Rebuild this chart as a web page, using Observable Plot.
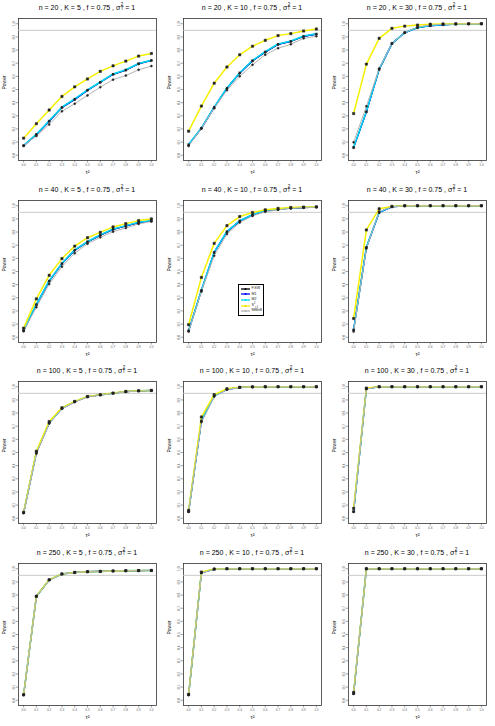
<!DOCTYPE html>
<html>
<head>
<meta charset="utf-8">
<script src="https://cdn.jsdelivr.net/npm/d3@7"></script>
<script src="https://cdn.jsdelivr.net/npm/@observablehq/plot@0.6"></script>
<style>
  html, body { margin: 0; padding: 0; background: #fff; }
  body { font-family: "Liberation Sans", Arial, sans-serif; }
  #grid { position: relative; width: 495px; height: 726px; overflow: hidden; }
  .cell { position: absolute; width: 165px; height: 181px; }
  .title { position: absolute; left: 18px; width: 138px; top: 1px; height: 14px; line-height: 14px;
           font-size: 7px; text-align: center; color: #000; white-space: nowrap; }
  .st { display: inline-flex; flex-direction: column; vertical-align: middle; line-height: 4.2px; font-size: 4.5px; margin-left: 0.3px; margin-top: -2px; }
  .cell svg { position: absolute; left: 0; top: 14px; }
  .legend { position: absolute; background: #fff; border: 0.6px solid #000; padding: 1px 1.5px; font-size: 3.6px; line-height: 5.6px; color: #222; }
  .legend .row { display: flex; align-items: center; height: 5.6px; }
  .legend svg { position: static; margin-right: 2px; }
</style>
</head>
<body>
<div id="grid"></div>
<script>
// ---- data ----
const tau = [0.0, 0.1, 0.2, 0.3, 0.4, 0.5, 0.6, 0.7, 0.8, 0.9, 1.0];
const xTicks = [0.0, 0.1, 0.2, 0.3, 0.4, 0.5, 0.6, 0.7, 0.8, 0.9, 1.0];
const yTicks = [0.0, 0.1, 0.2, 0.3, 0.4, 0.5, 0.6, 0.7, 0.8, 0.9, 1.0];
const nVals = [20, 20, 20, 40, 40, 40, 100, 100, 100, 250, 250, 250];
const KVals = [5, 10, 30, 5, 10, 30, 5, 10, 30, 5, 10, 30];
const fVals = [0.75, 0.75, 0.75, 0.75, 0.75, 0.75, 0.75, 0.75, 0.75, 0.75, 0.75, 0.75];
const refLine = 0.95;
const xLabel = "τ²";
const yLabel = "Power";
const seriesNames = ["F.SW", "M1", "M2", "S", "MMeB"];
const seriesColors = ["#000000", "#0000ff", "#00d8f0", "#f6f000", "#b4b4b4"];

const FSW = [
  [0.072, 0.157, 0.258, 0.362, 0.424, 0.494, 0.554, 0.615, 0.647, 0.695, 0.720],
  [0.078, 0.204, 0.362, 0.508, 0.624, 0.717, 0.784, 0.842, 0.865, 0.903, 0.920],
  [0.058, 0.330, 0.653, 0.849, 0.932, 0.970, 0.985, 0.992, 0.997, 0.999, 1.000],
  [0.050, 0.247, 0.426, 0.559, 0.661, 0.725, 0.776, 0.820, 0.846, 0.871, 0.884],
  [0.048, 0.354, 0.644, 0.802, 0.884, 0.930, 0.961, 0.973, 0.981, 0.986, 0.989],
  [0.055, 0.682, 0.948, 0.992, 1.000, 1.000, 1.000, 1.000, 1.000, 1.000, 1.000],
  [0.040, 0.500, 0.725, 0.836, 0.886, 0.924, 0.938, 0.951, 0.963, 0.969, 0.972],
  [0.050, 0.740, 0.930, 0.980, 0.995, 0.999, 1.000, 1.000, 1.000, 1.000, 1.000],
  [0.050, 0.985, 1.000, 1.000, 1.000, 1.000, 1.000, 1.000, 1.000, 1.000, 1.000],
  [0.040, 0.790, 0.915, 0.960, 0.972, 0.978, 0.980, 0.983, 0.985, 0.986, 0.987],
  [0.040, 0.970, 0.997, 1.000, 1.000, 1.000, 1.000, 1.000, 1.000, 1.000, 1.000],
  [0.050, 1.000, 1.000, 1.000, 1.000, 1.000, 1.000, 1.000, 1.000, 1.000, 1.000]
];
const M1 = [
  [0.073, 0.158, 0.259, 0.364, 0.425, 0.495, 0.555, 0.616, 0.648, 0.696, 0.721],
  [0.080, 0.206, 0.364, 0.510, 0.626, 0.719, 0.786, 0.844, 0.867, 0.905, 0.922],
  [0.058, 0.330, 0.653, 0.849, 0.932, 0.970, 0.985, 0.992, 0.997, 0.999, 1.000],
  [0.051, 0.248, 0.427, 0.560, 0.662, 0.726, 0.777, 0.821, 0.847, 0.872, 0.885],
  [0.049, 0.355, 0.645, 0.803, 0.885, 0.931, 0.962, 0.974, 0.982, 0.987, 0.990],
  [0.056, 0.683, 0.949, 0.992, 1.000, 1.000, 1.000, 1.000, 1.000, 1.000, 1.000],
  [0.040, 0.500, 0.725, 0.836, 0.886, 0.924, 0.938, 0.951, 0.963, 0.969, 0.972],
  [0.050, 0.740, 0.930, 0.980, 0.995, 0.999, 1.000, 1.000, 1.000, 1.000, 1.000],
  [0.050, 0.985, 1.000, 1.000, 1.000, 1.000, 1.000, 1.000, 1.000, 1.000, 1.000],
  [0.040, 0.790, 0.915, 0.960, 0.972, 0.978, 0.980, 0.983, 0.985, 0.986, 0.987],
  [0.040, 0.970, 0.997, 1.000, 1.000, 1.000, 1.000, 1.000, 1.000, 1.000, 1.000],
  [0.050, 1.000, 1.000, 1.000, 1.000, 1.000, 1.000, 1.000, 1.000, 1.000, 1.000]
];
const M2 = [
  [0.075, 0.160, 0.262, 0.366, 0.428, 0.497, 0.557, 0.618, 0.650, 0.698, 0.723],
  [0.082, 0.208, 0.366, 0.512, 0.628, 0.721, 0.788, 0.846, 0.869, 0.907, 0.924],
  [0.060, 0.333, 0.655, 0.850, 0.933, 0.970, 0.986, 0.993, 0.997, 0.999, 1.000],
  [0.052, 0.250, 0.430, 0.562, 0.664, 0.728, 0.779, 0.823, 0.849, 0.874, 0.887],
  [0.050, 0.357, 0.647, 0.805, 0.886, 0.932, 0.963, 0.975, 0.983, 0.988, 0.991],
  [0.057, 0.686, 0.950, 0.993, 1.000, 1.000, 1.000, 1.000, 1.000, 1.000, 1.000],
  [0.041, 0.502, 0.727, 0.837, 0.887, 0.925, 0.938, 0.951, 0.963, 0.969, 0.972],
  [0.051, 0.742, 0.931, 0.981, 0.995, 0.999, 1.000, 1.000, 1.000, 1.000, 1.000],
  [0.051, 0.986, 1.000, 1.000, 1.000, 1.000, 1.000, 1.000, 1.000, 1.000, 1.000],
  [0.041, 0.791, 0.915, 0.960, 0.972, 0.978, 0.980, 0.983, 0.985, 0.986, 0.987],
  [0.041, 0.971, 0.997, 1.000, 1.000, 1.000, 1.000, 1.000, 1.000, 1.000, 1.000],
  [0.051, 1.000, 1.000, 1.000, 1.000, 1.000, 1.000, 1.000, 1.000, 1.000, 1.000]
];
const S = [
  [0.130, 0.240, 0.344, 0.447, 0.520, 0.580, 0.638, 0.680, 0.716, 0.754, 0.774],
  [0.183, 0.374, 0.548, 0.671, 0.764, 0.829, 0.874, 0.910, 0.925, 0.945, 0.960],
  [0.317, 0.693, 0.889, 0.965, 0.982, 0.990, 0.997, 0.999, 1.000, 1.000, 1.000],
  [0.069, 0.292, 0.471, 0.598, 0.693, 0.757, 0.798, 0.839, 0.864, 0.887, 0.900],
  [0.095, 0.455, 0.714, 0.849, 0.918, 0.949, 0.969, 0.980, 0.987, 0.990, 0.992],
  [0.143, 0.816, 0.977, 0.995, 1.000, 1.000, 1.000, 1.000, 1.000, 1.000, 1.000],
  [0.045, 0.510, 0.735, 0.840, 0.889, 0.926, 0.939, 0.952, 0.964, 0.969, 0.972],
  [0.060, 0.770, 0.940, 0.985, 0.996, 0.999, 1.000, 1.000, 1.000, 1.000, 1.000],
  [0.075, 0.990, 1.000, 1.000, 1.000, 1.000, 1.000, 1.000, 1.000, 1.000, 1.000],
  [0.042, 0.792, 0.916, 0.961, 0.972, 0.978, 0.980, 0.983, 0.985, 0.986, 0.987],
  [0.045, 0.975, 0.998, 1.000, 1.000, 1.000, 1.000, 1.000, 1.000, 1.000, 1.000],
  [0.060, 1.000, 1.000, 1.000, 1.000, 1.000, 1.000, 1.000, 1.000, 1.000, 1.000]
];
const MM = [
  [0.073, 0.146, 0.234, 0.334, 0.392, 0.455, 0.518, 0.575, 0.606, 0.650, 0.678],
  [0.070, 0.204, 0.357, 0.495, 0.600, 0.688, 0.764, 0.814, 0.844, 0.889, 0.905],
  [0.098, 0.372, 0.660, 0.852, 0.932, 0.975, 0.990, 0.996, 0.998, 0.999, 1.000],
  [0.046, 0.228, 0.404, 0.537, 0.639, 0.711, 0.760, 0.803, 0.831, 0.862, 0.880],
  [0.043, 0.348, 0.619, 0.785, 0.872, 0.923, 0.954, 0.969, 0.980, 0.987, 0.990],
  [0.043, 0.675, 0.956, 0.992, 0.999, 1.000, 1.000, 1.000, 1.000, 1.000, 1.000],
  [0.040, 0.490, 0.720, 0.833, 0.884, 0.923, 0.937, 0.950, 0.963, 0.968, 0.971],
  [0.050, 0.730, 0.925, 0.978, 0.994, 0.999, 1.000, 1.000, 1.000, 1.000, 1.000],
  [0.050, 0.983, 1.000, 1.000, 1.000, 1.000, 1.000, 1.000, 1.000, 1.000, 1.000],
  [0.040, 0.789, 0.914, 0.959, 0.971, 0.977, 0.980, 0.983, 0.985, 0.986, 0.987],
  [0.040, 0.968, 0.997, 1.000, 1.000, 1.000, 1.000, 1.000, 1.000, 1.000, 1.000],
  [0.050, 1.000, 1.000, 1.000, 1.000, 1.000, 1.000, 1.000, 1.000, 1.000, 1.000]
];

// ---- drawing ----
const seriesData = [FSW, M1, M2, S, MM];
const seriesWidth = [1.1, 1.3, 1.5, 1.5, 1.0];
const seriesSymbol = ["circle", "asterisk", "times", "square", "circle"];
const rowTops = [0, 182, 363, 545];
const colLefts = [0, 165, 330];
const grid = document.getElementById("grid");

for (let p = 0; p < 12; p++) {
  const r = Math.floor(p / 3), c = p % 3;
  const cell = document.createElement("div");
  cell.className = "cell";
  cell.style.left = colLefts[c] + "px";
  cell.style.top = rowTops[r] + "px";

  const title = document.createElement("div");
  title.className = "title";
  title.innerHTML = `n = ${nVals[p]} , K = ${KVals[p]} , f = ${fVals[p]} , σ<span class="st"><span>2</span><span>T</span></span> = 1`;
  cell.appendChild(title);

  const marks = [
    Plot.frame({stroke: "#333", strokeWidth: 0.8}),
    Plot.ruleY([refLine], {stroke: "#c4c4c4", strokeWidth: 0.9}),
    Plot.axisX({ticks: xTicks, tickSize: 2.5, tickPadding: 1.2, tickFormat: d => d.toFixed(1),
      fontSize: 3.2, fill: "#666", stroke: "#444", strokeWidth: 0.5, label: null}),
    Plot.axisY({ticks: yTicks, tickSize: 2.5, tickPadding: 1.2, tickFormat: d => d.toFixed(1), tickRotate: -90,
      fontSize: 3.2, fill: "#666", stroke: "#444", strokeWidth: 0.5, label: null}),
    Plot.text([xLabel], {frameAnchor: "bottom", dy: 13, fontSize: 5.5, fill: "#000", text: d => d}),
    Plot.text([yLabel], {frameAnchor: "left", dx: -14, rotate: -90, fontSize: 5, fill: "#000", text: d => d})
  ];
  seriesData.forEach((arr, s) => {
    const rows = tau.map((t, j) => ({x: t, y: arr[p][j]}));
    marks.push(Plot.line(rows, {x: "x", y: "y", stroke: seriesColors[s], strokeWidth: seriesWidth[s]}));
  });
  seriesData.forEach((arr, s) => {
    const rows = tau.map((t, j) => ({x: t, y: arr[p][j]}));
    const sym = seriesSymbol[s];
    const filled = sym === "circle" || sym === "square";
    marks.push(Plot.dot(rows, {x: "x", y: "y", symbol: sym, r: s === 3 ? 1.3 : (s === 4 ? 1.0 : 1.1),
      fill: filled ? "#222" : "none", stroke: "#222", strokeWidth: 0.5}));
  });

  const chart = Plot.plot({
    width: 165, height: 167,
    marginTop: 4, marginBottom: 21, marginLeft: 18, marginRight: 9,
    x: {domain: [-0.04, 1.04]},
    y: {domain: [-0.04, 1.04]},
    style: {fontFamily: "Liberation Sans, Arial, sans-serif", fontSize: "5px", background: "transparent", overflow: "visible"},
    marks
  });
  cell.appendChild(chart);
  grid.appendChild(cell);

  if (p === 4) {
    const lg = document.createElement("div");
    lg.className = "legend";
    lg.style.left = "73px";
    lg.style.top = "102px";
    const labels = ["F.SW", "M1", "M2", "S<sup style='font-size:2.6px'>2</sup><sub style='font-size:2.6px'>r,1</sub>", "MMeB"];
    seriesNames.forEach((name, s) => {
      const row = document.createElement("div");
      row.className = "row";
      row.innerHTML = `<svg width="9" height="4"><line x1="0" y1="2" x2="9" y2="2" stroke="${seriesColors[s]}" stroke-width="1.3"/><circle cx="4.5" cy="2" r="1" fill="${seriesColors[s] === '#f6f000' ? '#e0d800' : seriesColors[s]}"/></svg><span>${labels[s]}</span>`;
      lg.appendChild(row);
    });
    cell.appendChild(lg);
  }
}
</script>
</body>
</html>
